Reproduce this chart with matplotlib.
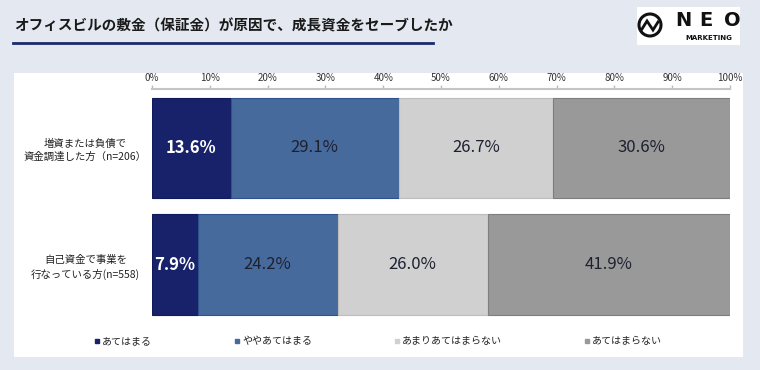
import matplotlib
matplotlib.use("Agg")
import matplotlib.pyplot as plt
from matplotlib.patches import Rectangle, Circle
from matplotlib.lines import Line2D

plt.rcParams['font.family'] = ['Noto Sans CJK JP', 'DejaVu Sans']

title = "オフィスビルの敷金（保証金）が原因で、成長資金をセーブしたか"
categories = ["増資または負債で\n資金調達した方（n=206）", "自己資金で事業を\n行なっている方(n=558)"]
series_names = ["あてはまる", "ややあてはまる", "あまりあてはまらない", "あてはまらない"]
values = [
    [13.6, 7.9],
    [29.1, 24.2],
    [26.7, 26.0],
    [30.6, 41.9],
]
xticks = [0, 10, 20, 30, 40, 50, 60, 70, 80, 90, 100]
xtick_labels = [f"{t}%" for t in xticks]

colors = ["#18226b", "#476a9c", "#d0d0d0", "#999999"]
edges = ["#101a5a", "#2f528c", "#bdbdbd", "#7e7e7e"]
text_colors = ["white", "#1d2030", "#1d2030", "#1d2030"]

W, H = 760, 370
fig = plt.figure(figsize=(W / 100, H / 100), dpi=100)
fig.patch.set_facecolor("#e4e9f1")

# background overlay axes in pixel coordinates
bg = fig.add_axes([0, 0, 1, 1], zorder=-1)
bg.set_xlim(0, W)
bg.set_ylim(H, 0)
bg.axis("off")
bg.set_facecolor("none")

bg.add_patch(Rectangle((14, 73), 743 - 14, 357 - 73, facecolor="white", edgecolor="none"))
bg.text(14, 25, title, fontsize=10.5, fontweight="bold", color="#1a1a1a", va="center", ha="left")
bg.plot([13, 433], [43, 43], color="#1b2a6b", lw=2)

# logo
bg.add_patch(Rectangle((637, 7), 740 - 637, 45 - 7, facecolor="white", edgecolor="none"))
bg.add_patch(Circle((650, 25), 11, facecolor="none", edgecolor="#111111", lw=2.2))
zx = [642, 647, 653, 658]
zy = [29, 21, 30, 22]
bg.plot(zx, zy, color="#111111", lw=2, solid_joinstyle="miter")
for ch, cx in zip("NEO", [683, 706, 732]):
    bg.text(cx, 20, ch, fontsize=14, fontweight="bold", family="DejaVu Sans",
            color="#111111", ha="center", va="center")
bg.text(709, 38, "MARKETING", fontsize=5, fontweight="bold", family="DejaVu Sans",
        color="#111111", ha="center", va="center")

# main axes
ax = fig.add_axes([152 / W, 1 - 325 / H, (730 - 152) / W, (325 - 89) / H], zorder=1)
ax.set_facecolor("none")
ypos = [0, 1]
left = [0.0, 0.0]
for i, name in enumerate(series_names):
    bars = ax.barh(ypos, values[i], left=left, height=0.86, color=colors[i],
                   edgecolor=edges[i], linewidth=0.8, label=name)
    for j, b in enumerate(bars):
        ax.text(left[j] + values[i][j] / 2, ypos[j], f"{values[i][j]:.1f}%",
                ha="center", va="center", fontsize=12, color=text_colors[i],
                fontweight="bold" if i == 0 else "normal")
    left = [l + v for l, v in zip(left, values[i])]

ax.set_xlim(0, 100)
ax.set_ylim(1.519, -0.506)
ax.xaxis.tick_top()
ax.set_xticks(xticks)
ax.set_xticklabels(xtick_labels, fontsize=7, color="#333333")
ax.tick_params(axis="x", length=3, width=1, color="#bbbbbb", pad=1.5)
ax.set_yticks(ypos)
ax.set_yticklabels(categories, fontsize=7.5, color="#222222", ha="center",
                   multialignment="center", linespacing=1.4)
ax.tick_params(axis="y", length=0, pad=48)
for s in ["bottom", "left", "right"]:
    ax.spines[s].set_visible(False)
ax.spines["top"].set_color("#c4c4c4")
ax.spines["top"].set_linewidth(1.5)

handles = [Line2D([], [], marker="s", linestyle="none", markersize=3.5,
                  markerfacecolor=c, markeredgecolor=c) for c in colors]
fig.legend(handles, series_names, loc="center", bbox_to_anchor=(378 / W, 1 - 341 / H),
           ncol=4, frameon=False, fontsize=7.2, handlelength=0.6, handletextpad=0.2,
           columnspacing=8.2, labelcolor="#222222")

fig.savefig("out.png", dpi=100, facecolor=fig.get_facecolor())
